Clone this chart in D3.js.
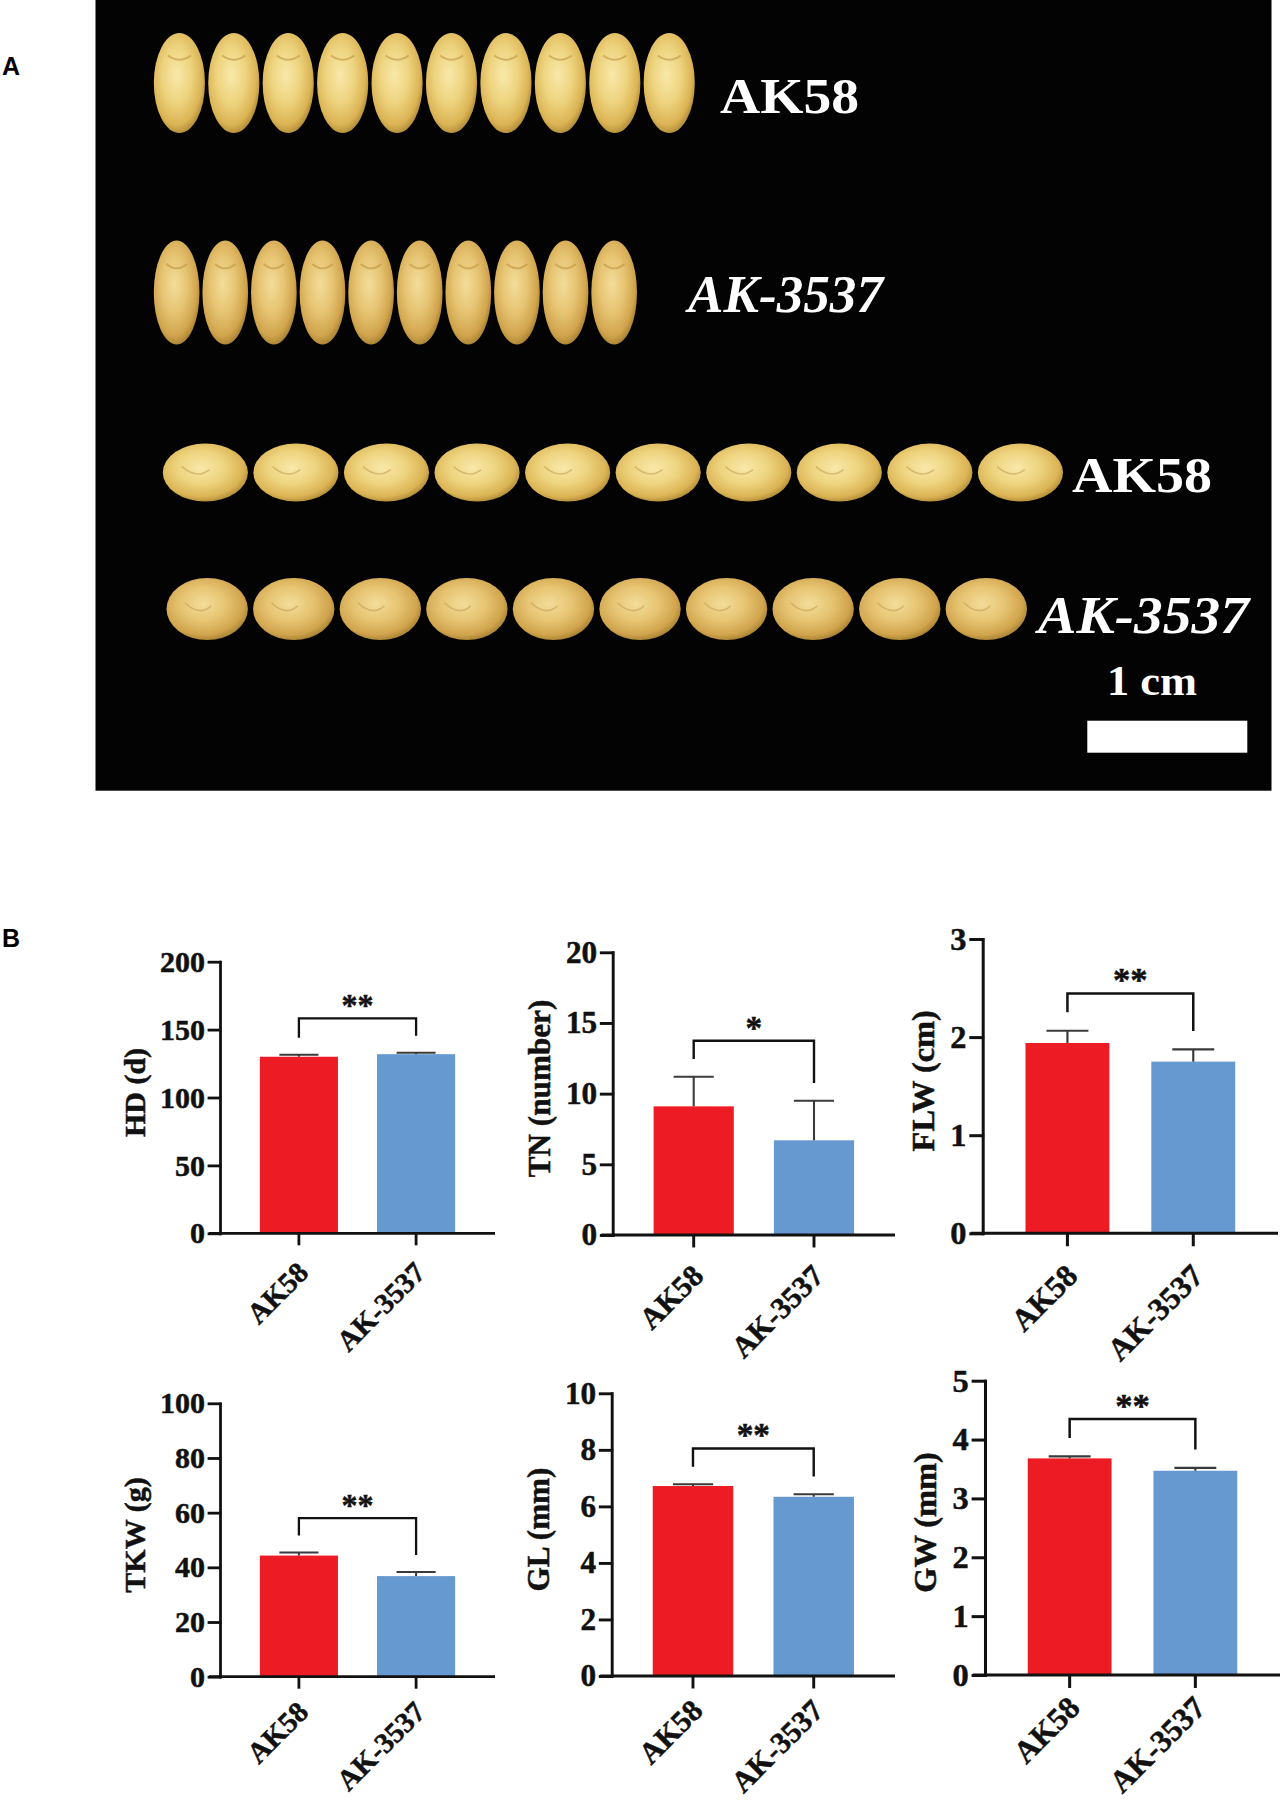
<!DOCTYPE html>
<html>
<head>
<meta charset="utf-8">
<script src="https://cdn.jsdelivr.net/npm/d3@7"></script>
<style>
  html, body { margin: 0; padding: 0; background: #fff; }
  svg { display: block; }
</style>
</head>
<body>
<svg id="fig" width="1282" height="1807"></svg>
<script>
// ---------------- DATA ----------------
const categories = ["AK58", "AK-3537"];
const traitLabels = ["HD (d)", "TN (number)", "FLW (cm)", "TKW (g)", "GL (mm)", "GW (mm)"];
const axisMax = [200, 20, 3, 100, 10, 5];
const tickStep = [50, 5, 1, 20, 2, 1];
const meanAK58 = [130.0, 9.1, 1.94, 44.3, 6.72, 3.68];
const meanAK3537 = [131.9, 6.7, 1.75, 36.8, 6.34, 3.47];
const errAK58 = [1.4, 2.1, 0.125, 1.1, 0.06, 0.035];
const errAK3537 = [1.0, 2.8, 0.125, 1.5, 0.09, 0.05];
const sigLabels = ["**", "*", "**", "**", "**", "**"];

// photo panel (A) rows
const photoRowLabels = ["AK58", "AK-3537", "AK58", "AK-3537"];
const photoRowItalic = [false, true, false, true];
const grainsPerRow = [10, 10, 10, 10];
const scaleBarLabel = "1 cm";
const panelLetters = ["A", "B"];

// ---------------- LAYOUT / STYLE ----------------
const serif = "'Liberation Serif', 'Times New Roman', Times, serif";
const sans = "'Liberation Sans', Arial, Helvetica, sans-serif";
const barColors = ["#ED1C24", "#6699CF"];
const ink = "#111";

const svg = d3.select("#fig");
svg.append("rect").attr("width", 1282).attr("height", 1807).attr("fill", "#fff");

// Panel letters
const letterPos = [[2, 75], [2, 946.5]];
svg.selectAll("text.panel").data(panelLetters).join("text")
  .attr("class", "panel")
  .attr("x", (d, i) => letterPos[i][0]).attr("y", (d, i) => letterPos[i][1])
  .attr("font-family", sans).attr("font-weight", "bold").attr("font-size", 25)
  .attr("fill", "#000").text(d => d);

// ---------------- PANEL A (photo re-drawn) ----------------
const photo = svg.append("g");
photo.append("rect").attr("x", 95.5).attr("y", 0).attr("width", 1176).attr("height", 790.7).attr("fill", "#030303");

const defs = svg.append("defs");
function grad(id, stops) {
  const g = defs.append("radialGradient").attr("id", id)
    .attr("cx", "45%").attr("cy", "42%").attr("r", "62%");
  stops.forEach(s => g.append("stop").attr("offset", s[0]).attr("stop-color", s[1]));
}
grad("grainA", [["0%", "#f8e8aa"], ["45%", "#eed47f"], ["80%", "#dbb455"], ["100%", "#a88331"]]);
grad("grainB", [["0%", "#f3dd9a"], ["45%", "#e6c472"], ["80%", "#d1a44d"], ["100%", "#9e7a2c"]]);

const rowLayout = [
  { x0: 153.8, x1: 694.8, cy: 83,    ry: 50, vertical: true,  lx: 720,  lw: 139, ly: 113,   fs: 50 },
  { x0: 153.8, x1: 637,   cy: 292.5, ry: 52, vertical: true,  lx: 688,  lw: 195, ly: 311.7, fs: 52 },
  { x0: 162.8, x1: 1063,  cy: 472.5, ry: 29, vertical: false, lx: 1072, lw: 140, ly: 491.7, fs: 50 },
  { x0: 166.5, x1: 1027,  cy: 609,   ry: 31, vertical: false, lx: 1038, lw: 211, ly: 633.3, fs: 53 }
];

photoRowLabels.forEach((lab, r) => {
  const L = rowLayout[r];
  const xb = d3.scaleBand().domain(d3.range(grainsPerRow[r])).range([L.x0, L.x1]).paddingInner(0.06);
  const rx = xb.bandwidth() / 2;
  const gr = photo.append("g");
  gr.selectAll("ellipse").data(xb.domain()).join("ellipse")
    .attr("cx", d => xb(d) + rx).attr("cy", L.cy)
    .attr("rx", rx).attr("ry", L.ry)
    .attr("fill", photoRowItalic[r] ? "url(#grainB)" : "url(#grainA)");
  if (L.vertical) {
    gr.selectAll("path").data(xb.domain()).join("path")
      .attr("d", d => {
        const cx = xb(d) + rx, top = L.cy - L.ry;
        return `M${cx - rx * 0.45},${top + L.ry * 0.45} Q${cx},${top + L.ry * 0.62} ${cx + rx * 0.45},${top + L.ry * 0.45}`;
      })
      .attr("fill", "none").attr("stroke", "#b8903c").attr("stroke-width", 2).attr("opacity", 0.55);
  } else {
    gr.selectAll("path").data(xb.domain()).join("path")
      .attr("d", d => {
        const cx = xb(d) + rx;
        return `M${cx - rx * 0.55},${L.cy - L.ry * 0.2} Q${cx - rx * 0.2},${L.cy + L.ry * 0.25} ${cx + rx * 0.1},${L.cy - L.ry * 0.1}`;
      })
      .attr("fill", "none").attr("stroke", "#c09848").attr("stroke-width", 1.6).attr("opacity", 0.5);
  }
  photo.append("text")
    .attr("x", L.lx).attr("y", L.ly)
    .attr("font-family", serif).attr("font-weight", "bold")
    .attr("font-style", photoRowItalic[r] ? "italic" : "normal")
    .attr("font-size", L.fs)
    .attr("textLength", L.lw).attr("lengthAdjust", "spacingAndGlyphs")
    .attr("fill", "#fff").text(lab);
});

photo.append("text").attr("x", 1107).attr("y", 695)
  .attr("font-family", serif).attr("font-weight", "bold").attr("font-size", 42)
  .attr("textLength", 90).attr("lengthAdjust", "spacingAndGlyphs")
  .attr("fill", "#fff").text(scaleBarLabel);
photo.append("rect").attr("x", 1087.3).attr("y", 720.7).attr("width", 160).attr("height", 32).attr("fill", "#fff");

// ---------------- PANEL B (bar charts) ----------------
const chartLayout = [
  { x0: 220,   x1: 495,  yTop: 961.7,  yBase: 1233.3, s: 1.00, lblDy: 41 },
  { x0: 612.7, x1: 895,  yTop: 952.3,  yBase: 1235,   s: 1.04, lblDy: 41 },
  { x0: 982.7, x1: 1278, yTop: 939,    yBase: 1233.3, s: 1.08, lblDy: 41 },
  { x0: 220,   x1: 495,  yTop: 1403.3, yBase: 1676.7, s: 1.00, lblDy: 37 },
  { x0: 611.7, x1: 895,  yTop: 1393.3, yBase: 1676,   s: 1.04, lblDy: 35 },
  { x0: 985,   x1: 1280, yTop: 1380.7, yBase: 1675,   s: 1.08, lblDy: 32 }
];

function boldText(sel, size) {
  return sel.attr("font-family", serif).attr("font-weight", "bold").attr("font-size", size)
    .attr("fill", ink).attr("stroke", ink).attr("stroke-width", 0.5).attr("paint-order", "stroke");
}

traitLabels.forEach((label, i) => {
  const L = chartLayout[i], s = L.s;
  const vals = [meanAK58[i], meanAK3537[i]];
  const errs = [errAK58[i], errAK3537[i]];
  const y = d3.scaleLinear().domain([0, axisMax[i]]).range([L.yBase, L.yTop]);
  const x = d3.scaleBand().domain(categories).range([L.x0, L.x1]).paddingInner(1 / 3).paddingOuter(0.34);
  const bw = x.bandwidth();
  const g = svg.append("g");

  // bars
  g.selectAll("rect.bar").data(categories).join("rect").attr("class", "bar")
    .attr("x", d => x(d)).attr("y", (d, j) => y(vals[j]))
    .attr("width", bw).attr("height", (d, j) => y(0) - y(vals[j]))
    .attr("fill", (d, j) => barColors[j]);

  // error bars (upper only)
  const eb = g.append("g").attr("stroke", "#3a3a3a").attr("stroke-width", 2 * s).attr("fill", "none");
  categories.forEach((c, j) => {
    const cx = x(c) + bw / 2;
    eb.append("line").attr("x1", cx).attr("x2", cx).attr("y1", y(vals[j])).attr("y2", y(vals[j] + errs[j]));
    eb.append("line").attr("x1", cx - bw / 4).attr("x2", cx + bw / 4)
      .attr("y1", y(vals[j] + errs[j])).attr("y2", y(vals[j] + errs[j]));
  });

  // y axis
  const ticks = d3.range(0, axisMax[i] + tickStep[i] / 2, tickStep[i]);
  const ya = g.append("g").attr("transform", `translate(${L.x0},0)`)
    .call(d3.axisLeft(y).tickValues(ticks).tickSize(11 * s).tickPadding(4 * s).tickSizeOuter(0).tickFormat(d3.format("d")));
  ya.selectAll("path, line").attr("stroke", ink).attr("stroke-width", 2.8 * s).attr("stroke-linecap", "square");
  boldText(ya.selectAll("text"), 30 * s);

  // x axis
  const xa = g.append("g").attr("transform", `translate(0,${L.yBase})`)
    .call(d3.axisBottom(x).tickSize(12 * s).tickSizeOuter(0).tickFormat(""));
  xa.selectAll("path, line").attr("stroke", ink).attr("stroke-width", 2.8 * s);
  xa.select("path.domain").attr("d", `M${L.x0 - 11 * s},0H${L.x1}`);

  // rotated x labels
  boldText(g.selectAll("text.xl").data(categories).join("text").attr("class", "xl")
    .attr("transform", d => `translate(${x(d) + bw / 2 + 11 * s},${L.yBase + L.lblDy * s}) rotate(-45)`)
    .attr("text-anchor", "end"), 29 * s).text(d => d);

  // y label
  let minX = Infinity;
  ya.selectAll("text").each(function () { minX = Math.min(minX, this.getBBox().x); });
  const bx = L.x0 + minX - 15 * s;
  const cy = (L.yTop + L.yBase) / 2 - 5 * s;
  boldText(g.append("text").attr("transform", `translate(${bx},${cy}) rotate(-90)`)
    .attr("text-anchor", "middle"), 30 * s).text(label);

  // significance bracket
  const c0 = x(categories[0]) + bw / 2, c1 = x(categories[1]) + bw / 2;
  const legL = y(vals[0] + errs[0]) - 17 * s;
  const legR = y(vals[1] + errs[1]) - 17 * s;
  const top = Math.min(legL, legR) - 17.5 * s;
  g.append("path").attr("d", `M${c0},${legL}V${top}H${c1}V${legR}`)
    .attr("fill", "none").attr("stroke", ink).attr("stroke-width", 2.3 * s);
  boldText(g.append("text").attr("x", (c0 + c1) / 2).attr("y", top - 2 * s)
    .attr("text-anchor", "middle"), 32 * s).text(sigLabels[i]);
});
</script>
</body>
</html>
